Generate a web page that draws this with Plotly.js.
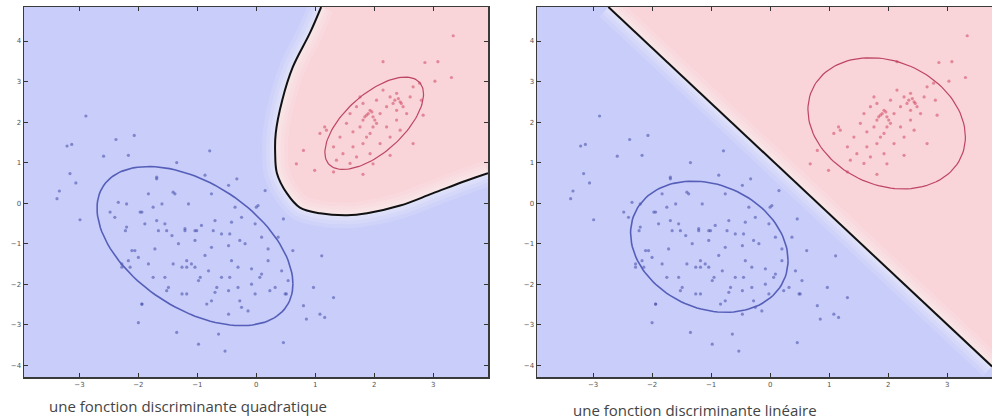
<!DOCTYPE html>
<html>
<head>
<meta charset="utf-8">
<script src="https://cdn.plot.ly/plotly-3.0.1.min.js"></script>
<style>html,body{margin:0;padding:0;background:#fff;}#chart{width:992px;height:419px;}</style>
</head>
<body>
<div id="chart"></div>
<script>
// ---------- data ----------
const captions = ["une fonction discriminante quadratique", "une fonction discriminante linéaire"];
const xTicks = [-3, -2, -1, 0, 1, 2, 3];
const yTicks = [-4, -3, -2, -1, 0, 1, 2, 3, 4];

// blue class samples
const blueX = [-2.89,-3.21,-3.13,-2.38,-2.07,-2.17,-2.59,-3.16,-3.06,-3.34,-3.38,-2.99,-0.79,-1.35,-1.69,-0.33,0.15,0.0,0.46,0.62,1.11,0.97,1.31,0.51,0.80,1.08,0.85,1.16,0.46,-0.64,-0.53,-0.98,-1.35,-2.0,-1.94,-2.14,-2.28,-2.11,
 -1.69,-1.41,-0.87,-0.47,0.03,-2.34,-2.20,-1.94,-1.75,-1.60,-2.48,-2.20,-2.22,-1.55,-1.66,-1.21,-1.04,-0.93,-0.70,-0.42,-0.25,-1.04,-1.32,-2.06,-2.0,-2.17,-2.28,-1.72,-0.76,-0.87,-0.47,-0.19,0.20,-1.18,-1.10,-1.04,-1.26,-0.81,-0.59,-0.42,-0.31,-0.08,0.09,0.20,-1.55,-1.83,-0.98,-0.70,-0.47,-0.31,-0.08,-0.02,0.32,0.49,-0.25,-0.14,-0.47,-0.76,-1.49,-1.94,-1.26,-1.38,-1.83,-1.15,-0.76,-0.36,-0.02,0.37,0.09,-0.59,-1.43,-2.40,-1.89,0.43,0.54,
 -1.97,-1.69,-1.52,-1.21,-1.01,-0.73,-0.45,-0.28,-1.41,-1.18,-0.95,-0.67,-0.45,-0.28,0.06,0.23,-0.84,-1.18,-1.52,-1.75];
const blueY = [2.15,1.41,1.45,1.57,1.67,1.18,1.16,0.73,0.50,0.30,0.11,-0.41,1.29,1.0,0.64,0.60,0.31,-0.1,-0.39,-1.17,-1.30,-2.08,-2.33,-2.24,-2.53,-2.74,-2.86,-2.82,-3.44,-3.23,-3.65,-3.48,-3.19,-2.95,-2.49,-1.58,-1.50,-1.17,
 0.60,0.27,0.69,0.44,-0.06,0.02,-0.02,-0.22,-0.10,-0.02,-0.22,-0.59,-0.68,-0.51,-0.68,-0.63,-0.68,-0.55,-0.43,-0.47,-0.35,-0.92,-1.0,-1.17,-1.34,-1.42,-1.58,-1.13,-1.09,-1.29,-1.05,-1.0,-1.13,-1.42,-1.50,-1.58,-1.58,-1.67,-1.83,-1.42,-1.58,-1.62,-1.75,-1.42,-1.83,-1.50,-1.91,-2.20,-2.16,-2.08,-2.0,-2.24,-2.08,-2.24,-2.57,-2.66,-2.74,-2.41,-2.08,-2.49,-2.24,0.23,0.23,-0.02,0.23,-0.10,-0.51,-0.84,-0.84,-0.76,-0.80,-0.35,-0.51,-1.67,-1.91,
 -0.22,-0.43,-0.68,-0.68,-0.68,-0.68,-0.76,-0.92,-1.50,-1.58,-1.83,-2.08,-1.83,-2.41,-1.83,-2.16,-2.49,-2.24,-2.16,-1.83];

// red class samples
const redX = [3.34,3.08,2.86,2.15,3.31,3.03,2.83,2.80,1.16,1.08,0.80,0.68,0.99,1.81,1.98,2.27,2.66,1.31,
 2.38,2.44,2.32,2.49,2.27,1.93,1.87,1.98,1.81,2.04,2.10,1.76,1.64,1.93,2.21,2.38,2.55,2.61,2.66,2.15,2.04,1.70,1.53,1.42,1.31,1.47,1.64,1.81,1.70,1.93,2.10,2.27,2.44,1.36,1.59,1.19,1.76,1.59,2.21,2.38,2.77,1.98,1.87,1.81,
 1.90,1.96,1.84,2.01,2.35,2.41,2.46];
const redY = [4.13,3.49,3.47,3.49,3.10,3.01,2.17,2.54,1.88,1.72,1.30,0.97,0.81,0.71,0.97,1.18,1.47,0.77,
 2.71,2.50,2.46,2.38,2.62,2.29,2.17,2.13,2.05,1.97,2.21,1.88,1.76,1.72,1.88,2.05,2.21,2.62,2.87,2.79,2.54,2.38,1.97,1.63,1.39,1.22,1.39,1.47,1.14,1.22,1.47,1.63,1.80,1.06,0.98,1.80,2.62,2.21,2.38,2.29,2.96,1.88,1.63,2.46,
 2.21,2.25,2.13,2.05,2.54,2.58,2.46];

// quadratic decision boundary (left panel)
const quadBX = [1.10,0.91,0.62,0.44,0.33,0.32,0.35,0.52,0.74,1.08,1.54,1.88,2.44,2.99,3.57,3.93];
const quadBY = [4.84,4.20,3.36,2.54,1.73,1.23,0.74,0.24,-0.11,-0.25,-0.30,-0.25,-0.06,0.24,0.56,0.74];

// linear decision boundary (right panel)
const linBX = [-2.74, 3.76];
const linBY = [4.84, -4.03];

// contour ellipses: centre and covariance-like [sxx, sxy, syy]
const ellQuadBlue = {c: [-1.04, -1.06], s: [2.76, -1.55, 3.86]};
const ellQuadRed  = {c: [2.00, 1.97],  s: [0.70, 0.60, 1.30]};
const ellLinBlue  = {c: [-1.03, -1.075], s: [1.78, -0.45, 2.62]};
const ellLinRed   = {c: [1.975, 1.97],  s: [1.78, -0.45, 2.62]};

// ---------- drawing ----------
const xRangeL = [-3.94, 3.93];
const xRangeR = [-3.95, 3.76];
const yRange = [-4.29, 4.84];

const BLUE_BG = 'rgb(201,205,249)';
const PINK = 'rgb(249,212,216)';

function ellipse(e) {
  const L11 = Math.sqrt(e.s[0]);
  const L21 = e.s[1] / L11;
  const L22 = Math.sqrt(e.s[2] - L21 * L21);
  const xs = [], ys = [];
  for (let i = 0; i <= 120; i++) {
    const t = 2 * Math.PI * i / 120;
    xs.push(e.c[0] + L11 * Math.cos(t));
    ys.push(e.c[1] + L21 * Math.cos(t) + L22 * Math.sin(t));
  }
  return {x: xs, y: ys};
}

function panel(xa, ya, bx, by, xr, eB, eR) {
  const tr = [];
  // red region
  tr.push({x: bx.concat([xr[1]]), y: by.concat([yRange[1]]), xaxis: xa, yaxis: ya,
    mode: 'lines', fill: 'toself', fillcolor: PINK, line: {width: 0, shape: 'linear'}, hoverinfo: 'skip'});
  // soft halo around boundary (layered for a gradient)
  [26, 18, 11, 6].forEach(function (w) {
    tr.push({x: bx, y: by, xaxis: xa, yaxis: ya, mode: 'lines',
      line: {color: 'rgba(255,255,255,0.13)', width: w, shape: 'spline'}, hoverinfo: 'skip'});
  });
  // samples
  tr.push({x: blueX, y: blueY, xaxis: xa, yaxis: ya, mode: 'markers',
    marker: {symbol: 'circle', size: 3.2, color: 'rgba(65,75,170,0.55)'}, hoverinfo: 'skip'});
  tr.push({x: redX, y: redY, xaxis: xa, yaxis: ya, mode: 'markers',
    marker: {symbol: 'circle', size: 3.2, color: 'rgba(210,70,100,0.55)'}, hoverinfo: 'skip'});
  // ellipses
  const b = ellipse(eB), r = ellipse(eR);
  tr.push({x: b.x, y: b.y, xaxis: xa, yaxis: ya, mode: 'lines', line: {color: 'rgb(85,95,185)', width: 1.6}, hoverinfo: 'skip'});
  tr.push({x: r.x, y: r.y, xaxis: xa, yaxis: ya, mode: 'lines', line: {color: 'rgb(190,70,100)', width: 1.2}, hoverinfo: 'skip'});
  // boundary
  tr.push({x: bx, y: by, xaxis: xa, yaxis: ya, mode: 'lines', line: {color: '#111', width: 2, shape: 'spline'}, hoverinfo: 'skip'});
  return tr;
}

const data = panel('x', 'y', quadBX, quadBY, xRangeL, ellQuadBlue, ellQuadRed)
  .concat(panel('x2', 'y2', linBX, linBY, xRangeR, ellLinBlue, ellLinRed));

const tickFont = {family: 'DejaVu Sans, sans-serif', size: 7, color: '#555'};
function xAxis(domain, range, anchor, mirror) {
  return {domain: domain, range: range, anchor: anchor, tickvals: xTicks, ticks: 'inside', ticklen: 4,
    tickcolor: '#333', tickwidth: 1, showline: true, linecolor: '#3a3a3a', linewidth: 1.5, mirror: mirror,
    showgrid: false, zeroline: false, tickfont: tickFont, fixedrange: true};
}
function yAxis(anchor, mirror) {
  return {domain: [0, 1], range: yRange, anchor: anchor, tickvals: yTicks, ticks: 'inside', ticklen: 4,
    tickcolor: '#333', tickwidth: 1, showline: true, linecolor: '#3a3a3a', linewidth: 1.5, mirror: mirror,
    showgrid: false, zeroline: false, tickfont: tickFont, fixedrange: true};
}

const layout = {
  width: 992, height: 419,
  margin: {l: 0, r: 0, t: 7, b: 42},
  paper_bgcolor: '#fff', plot_bgcolor: BLUE_BG,
  showlegend: false,
  xaxis: xAxis([24/992, 488/992], xRangeL, 'y', 'allticks'),
  yaxis: yAxis('x', 'allticks'),
  xaxis2: xAxis([537/992, 1], xRangeR, 'y2', 'allticks'),
  yaxis2: yAxis('x2', false),
  annotations: [
    {text: captions[0], xref: 'paper', yref: 'paper', x: 188/992, y: -0.078, xanchor: 'center', yanchor: 'middle',
      showarrow: false, font: {family: 'Open Sans, sans-serif', size: 15, color: '#444'}},
    {text: captions[1], xref: 'paper', yref: 'paper', x: 695/992, y: -0.089, xanchor: 'center', yanchor: 'middle',
      showarrow: false, font: {family: 'Open Sans, sans-serif', size: 15, color: '#444'}}
  ]
};

Plotly.newPlot('chart', data, layout, {displayModeBar: false, staticPlot: true});
</script>
</body>
</html>
